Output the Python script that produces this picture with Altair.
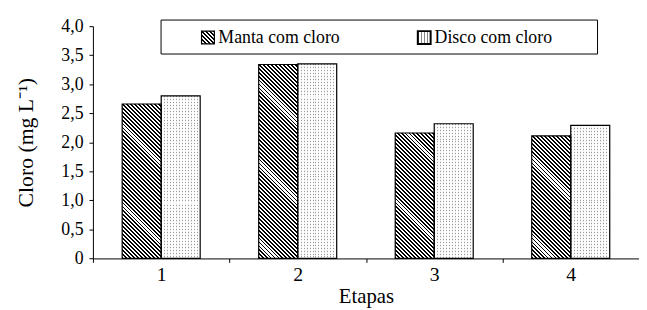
import altair as alt
import pandas as pd

# ---- data ----
etapas = ["1", "2", "3", "4"]
series = ["Manta com cloro", "Disco com cloro"]
manta = [2.66, 3.34, 2.16, 2.11]
disco = [2.80, 3.35, 2.32, 2.29]
y_ticks = [0, 0.5, 1.0, 1.5, 2.0, 2.5, 3.0, 3.5, 4.0]
y_title = "Cloro (mg L\u207b\u00b9)"
x_title = "Etapas"

rows = []
for e, m, d in zip(etapas, manta, disco):
    rows.append({"Etapa": e, "Serie": series[0], "Cloro": m})
    rows.append({"Etapa": e, "Serie": series[1], "Cloro": d})
df = pd.DataFrame(rows)

# ---- layout / style ----
W = 553.0
H = 235.2
YMAX = 4.0
STEP = W / len(etapas)
BAR_W = STEP / 3.5
FONT = "Liberation Serif"


def _stops(length, period, ink, color, bg):
    st = []
    i = 0
    while i * period < length:
        a = i * period / length
        b = min((i * period + ink) / length, 1.0)
        c = min((i + 1) * period / length, 1.0)
        st += [(color, a), (color, b), (bg, b), (bg, c)]
        i += 1
    return [alt.GradientStop(color=col, offset=round(off, 5)) for col, off in st]


def hatch(w, h, period=4.0, ink=1.9, color="#000000", bg="#ffffff"):
    """Diagonal '\\' stripes at 45 degrees in pixel space for a w x h box."""
    L = w + h
    k = L / (w * w + h * h)
    return alt.LinearGradient(
        gradient="linear", stops=_stops(L, period, ink, color, bg),
        x1=0, y1=1, x2=round(k * w, 6), y2=round(1 - k * h, 6))


def vstripes(w, period=3.0, ink=1.0, color="#9a9a9a", bg="#ffffff"):
    return alt.LinearGradient(
        gradient="linear", stops=_stops(w, period, ink, color, bg),
        x1=0, y1=0, x2=1, y2=0)


def hmask(h, period=3.0, ink=1.0):
    # transparent rows of width `ink`, white rows elsewhere -> leaves dots
    return alt.LinearGradient(
        gradient="linear",
        stops=_stops(h, period, ink, "rgba(255,255,255,0)", "rgba(255,255,255,0.85)"),
        x1=0, y1=0, x2=0, y2=1)


x_enc = alt.X(
    "Etapa:N", sort=etapas,
    scale=alt.Scale(domain=etapas, paddingInner=0, paddingOuter=0),
    axis=alt.Axis(
        labelAngle=0, tickBand="extent", tickSize=4, tickColor="black",
        domainColor="black", labelFont=FONT, labelFontSize=20, labelColor="black",
        labelPadding=2, grid=False, title=x_title, titleFont=FONT,
        titleFontSize=21, titleFontWeight="normal", titleColor="black",
        titleX=W / 2, titleY=44.5, titleAlign="center", titleBaseline="alphabetic"),
)
xo_enc = alt.XOffset(
    "Serie:N", sort=series,
    scale=alt.Scale(domain=series, paddingInner=0, paddingOuter=0.75),
)
y_enc = alt.Y(
    "Cloro:Q",
    scale=alt.Scale(domain=[0, YMAX], nice=False, zero=True),
    axis=alt.Axis(
        values=y_ticks,
        labelExpr="datum.value == 0 ? '0' : replace(format(datum.value, '.1f'), '.', ',')",
        tickSize=4, tickColor="black", domainColor="black", labelFont=FONT,
        labelFontSize=18, labelColor="black", labelPadding=6, grid=False,
        title=y_title, titleFont=FONT, titleFontSize=22, titleFontWeight="normal",
        titleColor="black", titleX=-68, titleY=H / 2, titleAngle=270,
        titleAlign="center", titleBaseline="middle"),
)

base = alt.Chart(df).encode(x=x_enc, xOffset=xo_enc, y=y_enc)

layers = []
for i, e in enumerate(etapas):
    hm = manta[i] * H / YMAX
    hd = disco[i] * H / YMAX
    layers.append(
        base.transform_filter((alt.datum.Etapa == e) & (alt.datum.Serie == series[0]))
        .mark_bar(fill=hatch(BAR_W, hm))
    )
    layers.append(
        base.transform_filter((alt.datum.Etapa == e) & (alt.datum.Serie == series[1]))
        .mark_bar(fill=vstripes(BAR_W))
    )
    layers.append(
        base.transform_filter((alt.datum.Etapa == e) & (alt.datum.Serie == series[1]))
        .mark_bar(fill=hmask(hd))
    )

layers.append(base.mark_bar(fill="transparent", stroke="black", strokeWidth=1.2))

# ---- boxed legend (drawn by hand, as in the reference) ----
one = alt.Chart(alt.InlineData(values=[{"k": 0}]))
layers.append(
    one.mark_rect(fill="white", stroke="black", strokeWidth=1).encode(
        x=alt.value(69), x2=alt.value(511), y=alt.value(-6.2), y2=alt.value(28.2))
)
layers.append(
    one.mark_rect(fill=hatch(13, 13, period=4.0, ink=2.4), stroke="black", strokeWidth=1.2).encode(
        x=alt.value(110), x2=alt.value(123), y=alt.value(5), y2=alt.value(18))
)
layers.append(
    one.mark_rect(fill=vstripes(13, color="#888888"), stroke="black", strokeWidth=2).encode(
        x=alt.value(329), x2=alt.value(342), y=alt.value(5), y2=alt.value(18))
)
for xpos, name in [(127, series[0]), (346, series[1])]:
    layers.append(
        one.mark_text(align="left", baseline="alphabetic", font=FONT, fontSize=18, color="black")
        .encode(x=alt.value(xpos), y=alt.value(17.4), text=alt.value(name))
    )

chart = (
    alt.layer(*layers)
    .properties(
        width=W, height=H,
        padding={"left": 86, "top": 16.5, "right": 0, "bottom": 50},
        autosize=alt.AutoSizeParams(type="none"),
        background="white",
    )
    .configure_view(stroke=None)
)

chart.save("out.html", embed_options={"renderer": "svg", "actions": False})
